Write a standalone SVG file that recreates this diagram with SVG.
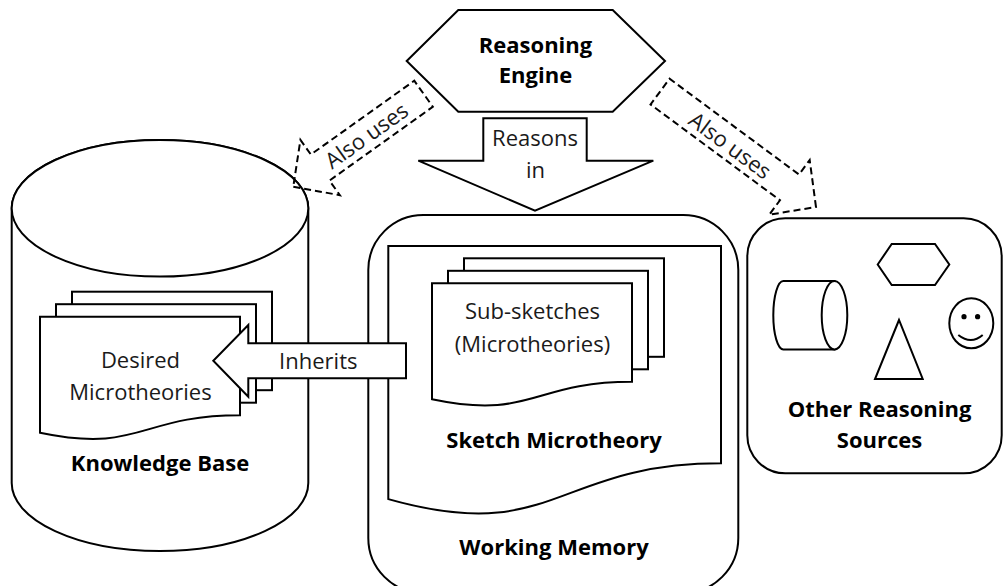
<svg xmlns="http://www.w3.org/2000/svg" xmlns:xlink="http://www.w3.org/1999/xlink" width="1004" height="586" viewBox="0 0 1004 586">
  <style>
    .shape { fill: #ffffff; stroke: #000000; stroke-width: 2; stroke-linejoin: miter; }
    .line { fill: none; stroke: #000000; stroke-width: 2; }
    .dash { fill: none; stroke: #000000; stroke-width: 2; stroke-dasharray: 7 4; }
    .t { font-family: "Open Sans", "Noto Sans", "Liberation Sans", sans-serif; font-size: 22px; fill: #1a1a1a; text-anchor: middle; }
    .b { font-weight: bold; fill: #000000; }
  </style>
  <defs>
    <path id="page" d="M0,0 H200 V98.5 C100,98.5 100,137 0,116 Z"/>
    <rect id="backpage" x="0" y="0" width="200" height="98.5"/>
    <path id="dasharrow" d="M0,0 L-33,-34 L-33,-16 L-160,-16 L-160,16 L-33,16 L-33,34 Z"/>
  </defs>

  <g id="knowledge-base">
    <path class="shape" d="M11.7,208.3 L11.7,483 A148.3,68 0 0 0 308.3,483 L308.3,208.3 A148.3,68.3 0 0 0 11.7,208.3 Z"/>
    <ellipse class="shape" cx="160" cy="208.3" rx="148.3" ry="68.3"/>
    <text class="t b" x="160" y="470.7">Knowledge Base</text>
  </g>

  <g id="desired-microtheories">
    <use xlink:href="#backpage" class="shape" x="72" y="291.7"/>
    <use xlink:href="#backpage" class="shape" x="56" y="304.2"/>
    <use xlink:href="#page" class="shape" x="40" y="316.7"/>
    <text class="t" x="140.5" y="367.5">Desired</text>
    <text class="t" x="140.5" y="400">Microtheories</text>
  </g>

  <g id="working-memory">
    <rect class="shape" x="368.3" y="215" width="370" height="378" rx="55" ry="55"/>
    <text class="t b" x="554" y="555">Working Memory</text>
  </g>

  <g id="sketch-microtheory">
    <path class="shape" d="M388.3,246 H721 V463.3 C554.7,463.3 554.7,546 388.3,499.1 Z"/>
    <text class="t b" x="554" y="448.3">Sketch Microtheory</text>
  </g>

  <g id="sub-sketches">
    <use xlink:href="#backpage" class="shape" x="464" y="258.3"/>
    <use xlink:href="#backpage" class="shape" x="448" y="270.8"/>
    <use xlink:href="#page" class="shape" x="432" y="283.3"/>
    <text class="t" x="532.5" y="319.3">Sub-sketches</text>
    <text class="t" x="532.5" y="351.7">(Microtheories)</text>
  </g>

  <g id="other-reasoning-sources">
    <rect class="shape" x="747.3" y="218.3" width="254.4" height="255" rx="38" ry="38"/>
    <polygon class="shape" points="877.7,264.5 891.7,244 935,244 949.3,264.5 935,285 891.7,285"/>
    <path class="shape" d="M834.5,281 H783.3 A10,34.2 0 0 0 783.3,349.4 H834.5 Z"/>
    <ellipse class="shape" cx="834.5" cy="315.2" rx="12.8" ry="34.2"/>
    <polygon class="shape" points="899,320 875,379 922.7,379"/>
    <ellipse class="shape" cx="971.3" cy="323.3" rx="22" ry="25"/>
    <circle cx="964" cy="316.7" r="2.6" fill="#000"/>
    <circle cx="977.6" cy="316.7" r="2.6" fill="#000"/>
    <path class="line" d="M958.3,335 Q971,345 982.7,335"/>
    <text class="t b" x="879.5" y="416.7">Other Reasoning</text>
    <text class="t b" x="879.5" y="447.7">Sources</text>
  </g>

  <g id="reasoning-engine">
    <polygon class="shape" points="406.7,61 458.3,10 612.7,10 665,61 612.7,111.7 458.3,111.7"/>
    <text class="t b" x="535.5" y="52.7">Reasoning</text>
    <text class="t b" x="535.5" y="83.3">Engine</text>
  </g>

  <g id="connectors">
    <g id="reasons-in">
      <path class="shape" d="M483.3,118.3 H586.7 V160.7 H653.3 L535,210.7 L418.3,160.7 H483.3 Z"/>
      <text class="t" x="535" y="145.7">Reasons</text>
      <text class="t" x="535.5" y="178.3">in</text>
    </g>
    <g id="also-uses-left">
      <use xlink:href="#dasharrow" class="dash" transform="translate(293.3,186.7) rotate(144.5)"/>
      <text class="t" transform="translate(366.7,135.8) rotate(-35.5)" x="0" y="7.5">Also uses</text>
    </g>
    <g id="also-uses-right">
      <path class="dash" transform="translate(816,207) rotate(36.5)" d="M0,0 L-33,-34 L-33,-16 L-194,-16 L-194,16 L-33,16 L-33,34 Z"/>
      <text class="t" transform="translate(730,145.8) rotate(36.5)" x="0" y="7.5">Also uses</text>
    </g>
    <g id="inherits">
      <path class="shape" d="M406,343.3 H248.3 V325 L213.3,360.8 L248.3,396.7 V378.3 H406 Z"/>
      <text class="t" x="318.3" y="369.3">Inherits</text>
    </g>
  </g>
</svg>
